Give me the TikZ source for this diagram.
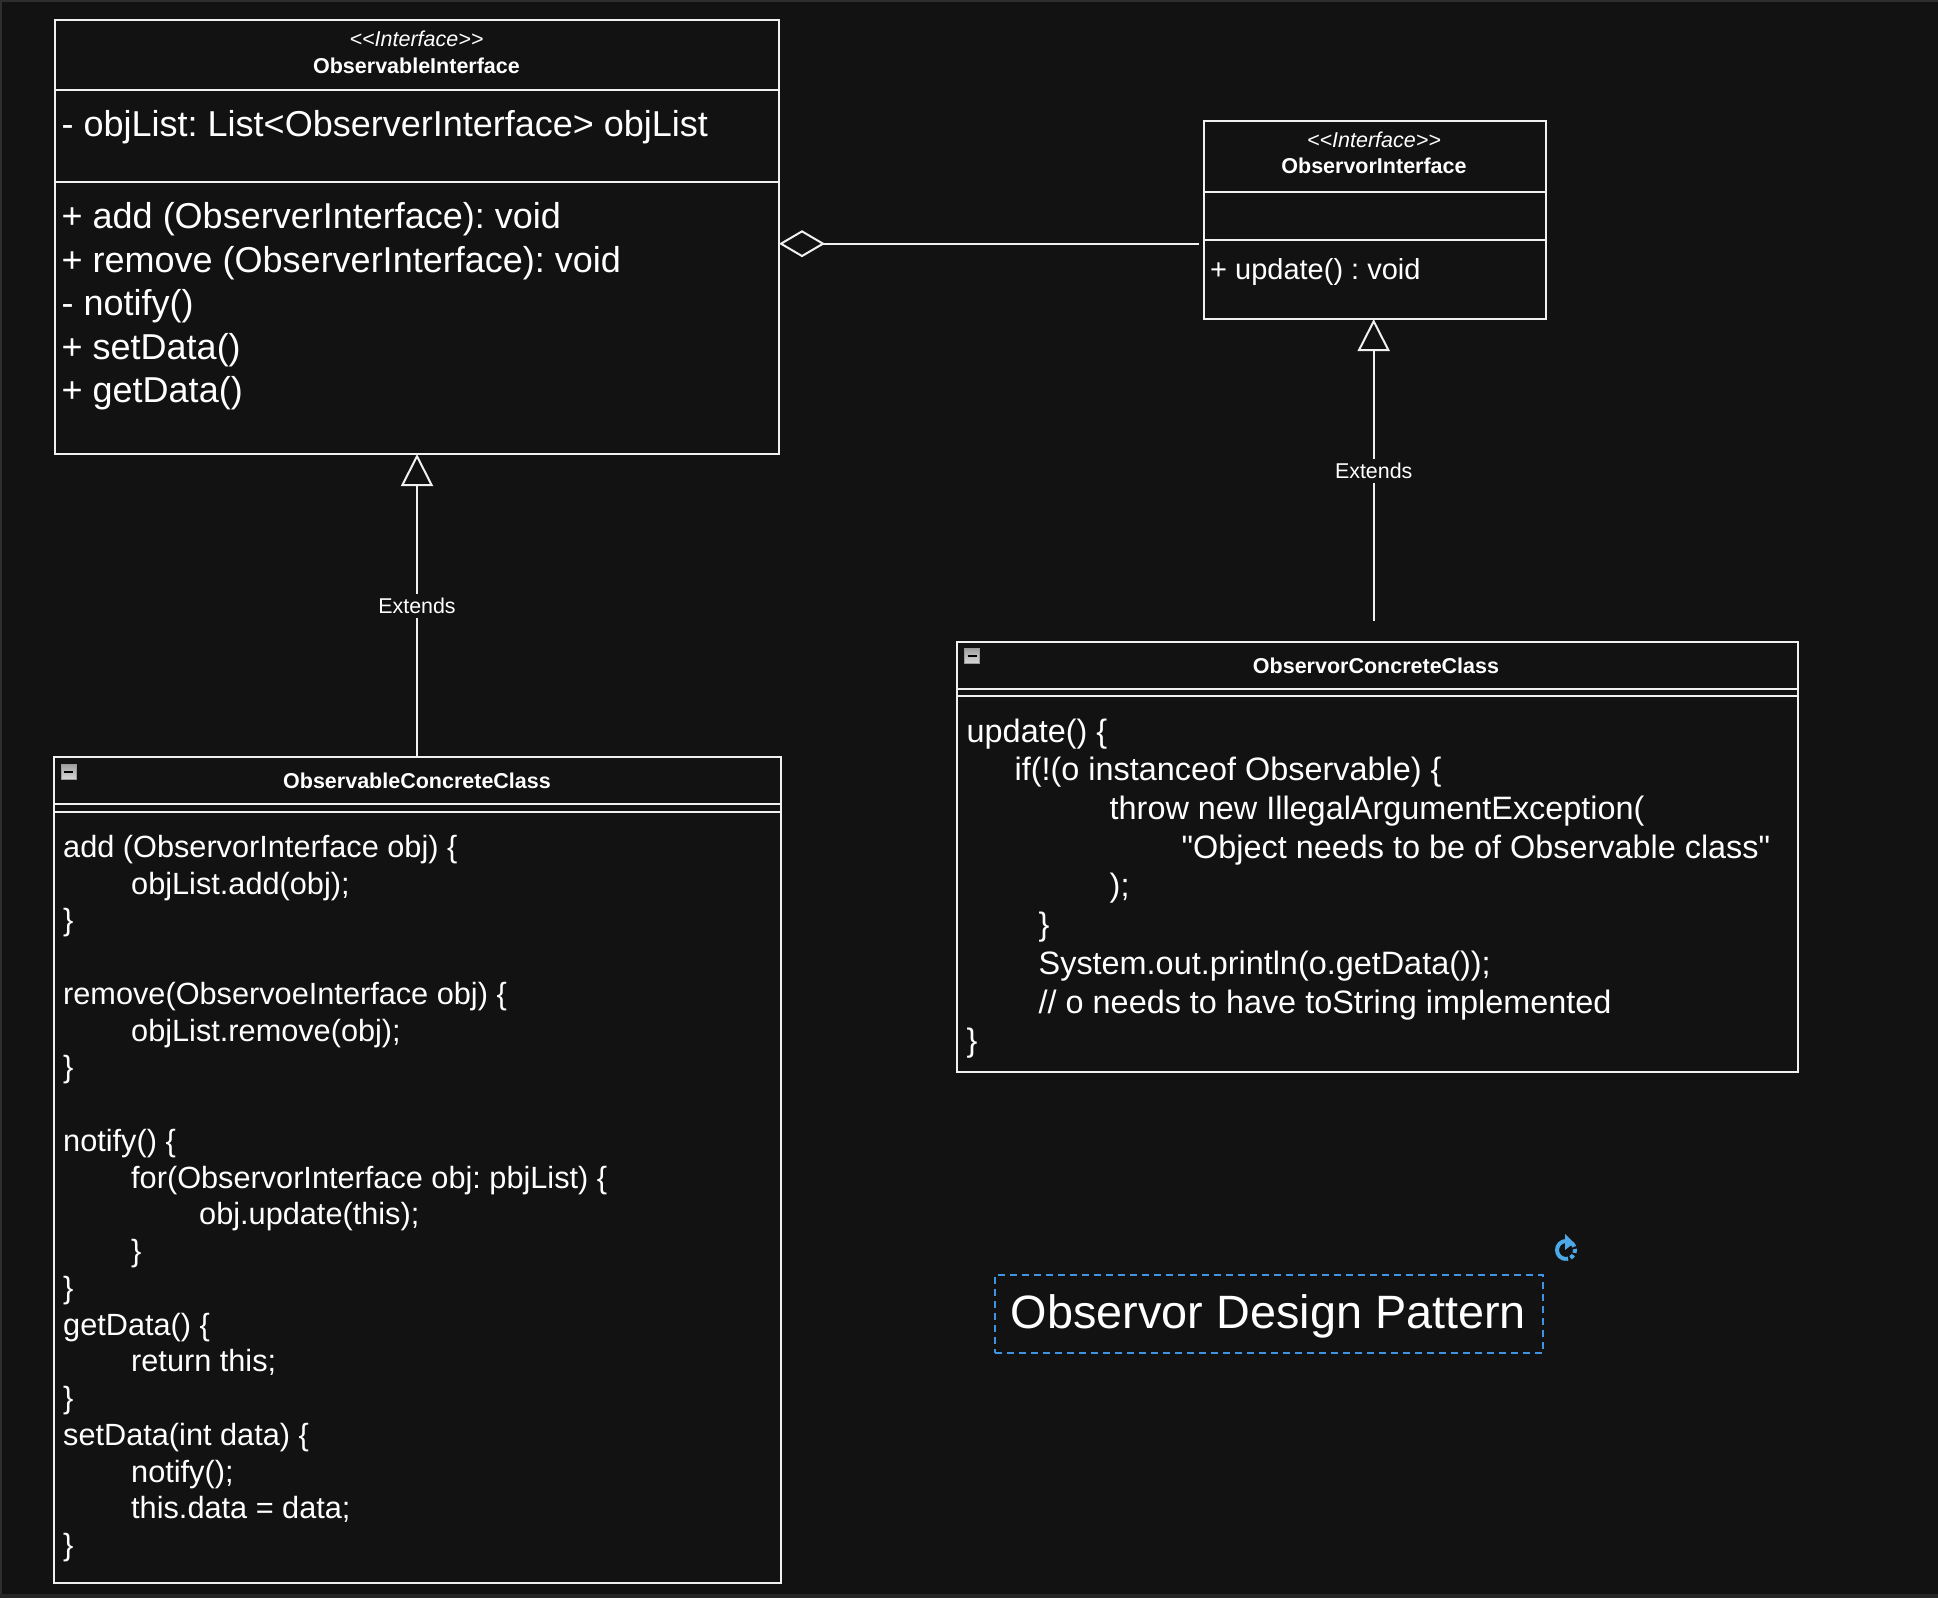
\documentclass[tikz,border=0pt]{standalone}
\usepackage{fontspec}
\setmainfont[Ligatures=TeXOff]{Liberation Sans}
\usetikzlibrary{arrows.meta,positioning}
\definecolor{canvasbg}{HTML}{121212}
\definecolor{canvasedge}{HTML}{2E2E2E}
\definecolor{umlline}{HTML}{F0F0F0}
\definecolor{selectblue}{HTML}{3F93E0}
\definecolor{rotateblue}{HTML}{4DA8E8}
\tikzset{
    classbox/.style={draw=umlline,line width=2pt,rectangle,anchor=north west,inner sep=0pt,outer sep=0pt},
    stereotype/.style={text=white,inner sep=0pt,font=\fontsize{21.5}{25}\selectfont\itshape},
    classname/.style={text=white,inner sep=0pt,font=\fontsize{21.5}{25}\selectfont\bfseries},
    bigmember/.style={text=white,inner sep=0pt,anchor=north west,align=left,font=\fontsize{36}{43.5}\selectfont},
    codetext/.style={text=white,inner sep=0pt,anchor=north west,align=left,font=\fontsize{30.7}{36.75}\selectfont},
    umlline/.style={draw=umlline,line width=2pt},
    extendslabel/.style={fill=canvasbg,text=white,inner xsep=2pt,inner ysep=4pt,font=\fontsize{21.4}{26}\selectfont},
    extendsarrow/.style={umlline,-{Triangle[open,length=32pt,width=32pt]}},
    aggarrow/.style={umlline,-{Diamond[open,length=46pt,width=27pt]}},
    collapseicon/.style={top color=gray!75,bottom color=gray!30,draw=gray!80,inner sep=0pt,minimum size=15pt}
}
\newcommand{\indA}{\hspace*{68pt}}
\newcommand{\indB}{\hspace*{136pt}}
\begin{document}
\frenchspacing
\begin{tikzpicture}[x=1pt,y=-1pt]
    \fill[canvasbg] (0,0) rectangle (1938,1598);
    \fill[canvasedge] (0,0) rectangle (1938,2);
    \fill[canvasedge] (0,0) rectangle (2,1598);
    \fill[black!85!white] (0,1594) rectangle (1938,1598);
    \useasboundingbox (0,0) rectangle (1938,1598);
    % observable interface
    \node[classbox,minimum width=724pt,minimum height=70pt] (obsHead) at (55,20) {};
    \node[classbox,minimum width=724pt,minimum height=92pt] (obsAttr) at (55,90) {};
    \node[classbox,minimum width=724pt,minimum height=272pt] (obsBody) at (55,182) {};
    \node[stereotype] (obsStereo) at (416.5,39) {<<Interface>>};
    \node[classname] (obsName) at (416.5,65.5) {ObservableInterface};
    \node[bigmember] (obsAttrText) at (61.5,110) {- objList: List<ObserverInterface> objList};
    \node[bigmember] (obsBodyText) at (61.5,202.5) {+ add (ObserverInterface): void\\
        + remove (ObserverInterface): void\\
        - notify()\\
        + setData()\\
        + getData()};
    % observor interface
    \node[classbox,minimum width=342.5pt,minimum height=70.5pt] (ifaceHead) at (1203.5,121) {};
    \node[classbox,minimum width=342.5pt,minimum height=48.5pt] (ifaceAttr) at (1203.5,191.5) {};
    \node[classbox,minimum width=342.5pt,minimum height=79pt] (ifaceBody) at (1203.5,240) {};
    \node[stereotype] (ifaceStereo) at (1374,140) {<<Interface>>};
    \node[classname] (ifaceName) at (1374,165.5) {ObservorInterface};
    \node[text=white,inner sep=0pt,anchor=west,font=\fontsize{29}{34}\selectfont] (ifaceText) at (1210,272) {+ update() : void};
    % observable concrete class
    \node[classbox,minimum width=727.5pt,minimum height=47.5pt] (concHead) at (53.5,756.5) {};
    \node[classbox,minimum width=727.5pt,minimum height=7.5pt] (concGap) at (53.5,804) {};
    \node[classbox,minimum width=727.5pt,minimum height=771.5pt] (concBody) at (53.5,811.5) {};
    \node[classname] (concName) at (417,780.5) {ObservableConcreteClass};
    \node[collapseicon] (concIcon) at (68.5,772) {};
    \draw[black,line width=2pt] (concIcon.center) ++(-4.5,0) -- ++(9,0);
    \node[codetext] (concText) at (63,835) {add (ObservorInterface obj) \{\\
        \indA objList.add(obj);\\
        \}\\[36.75pt]
        remove(ObservoeInterface obj) \{\\
        \indA objList.remove(obj);\\
        \}\\[36.75pt]
        notify() \{\\
        \indA for(ObservorInterface obj: pbjList) \{\\
        \indB obj.update(this);\\
        \indA \}\\
        \}\\
        getData() \{\\
        \indA return this;\\
        \}\\
        setData(int data) \{\\
        \indA notify();\\
        \indA this.data = data;\\
        \}};
    % observor concrete class
    \node[classbox,minimum width=841pt,minimum height=47pt] (subHead) at (957,641.5) {};
    \node[classbox,minimum width=841pt,minimum height=7.5pt] (subGap) at (957,688.5) {};
    \node[classbox,minimum width=841pt,minimum height=375.5pt] (subBody) at (957,696) {};
    \node[classname] (subName) at (1376,665.5) {ObservorConcreteClass};
    \node[collapseicon] (subIcon) at (972,656) {};
    \draw[black,line width=2pt] (subIcon.center) ++(-4.5,0) -- ++(9,0);
    \node[codetext,font=\fontsize{32.4}{38.7}\selectfont] (subText) at (966.5,718.5) {update() \{\\
        \hspace*{48pt}if(!(o instanceof Observable) \{\\
        \hspace*{143pt}throw new IllegalArgumentException(\\
        \hspace*{215pt}"Object needs to be of Observable class"\\
        \hspace*{143pt});\\
        \hspace*{72pt}\}\\
        \hspace*{72pt}System.out.println(o.getData());\\
        \hspace*{72pt}// o needs to have toString implemented\\
        \}};
    % connectors
    \coordinate (subTop) at (1373.7,620.5);
    \coordinate (aggEnd) at (1199,243.7);
    \draw[extendsarrow] (concHead.north -| concName) -- node[extendslabel,yshift=-0.5pt] (concLabel) {Extends} (obsBody.south -| concName);
    \draw[extendsarrow] (subTop) -- node[extendslabel,yshift=-1pt] (subLabel) {Extends} (subTop |- ifaceBody.south);
    \draw[aggarrow] (aggEnd) -- (aggEnd -| obsBody.east);
    % title and selection
    \node[draw=selectblue,line width=1.5pt,dash pattern=on 7pt off 5pt,minimum width=548pt,minimum height=78pt,inner sep=0pt,outer sep=0pt,anchor=north west] (titleBox) at (995,1275) {};
    \node[text=white,inner sep=0pt,font=\fontsize{46.8}{54}\selectfont] (titleText) at (1268.5,1316.5) {Observor Design Pattern};
    % rotate handle
    \coordinate (rotC) at (1566,1250);
    \draw[rotateblue,line width=4pt] (rotC) ++(90:9) arc (90:270:9);
    \draw[rotateblue,line width=4pt,dash pattern=on 4pt off 2.5pt] (rotC) ++(270:9) arc (-90:90:9);
    \fill[rotateblue] (1565,1234) -- (1574,1243) -- (1565,1250) -- cycle;
\end{tikzpicture}
\end{document}
